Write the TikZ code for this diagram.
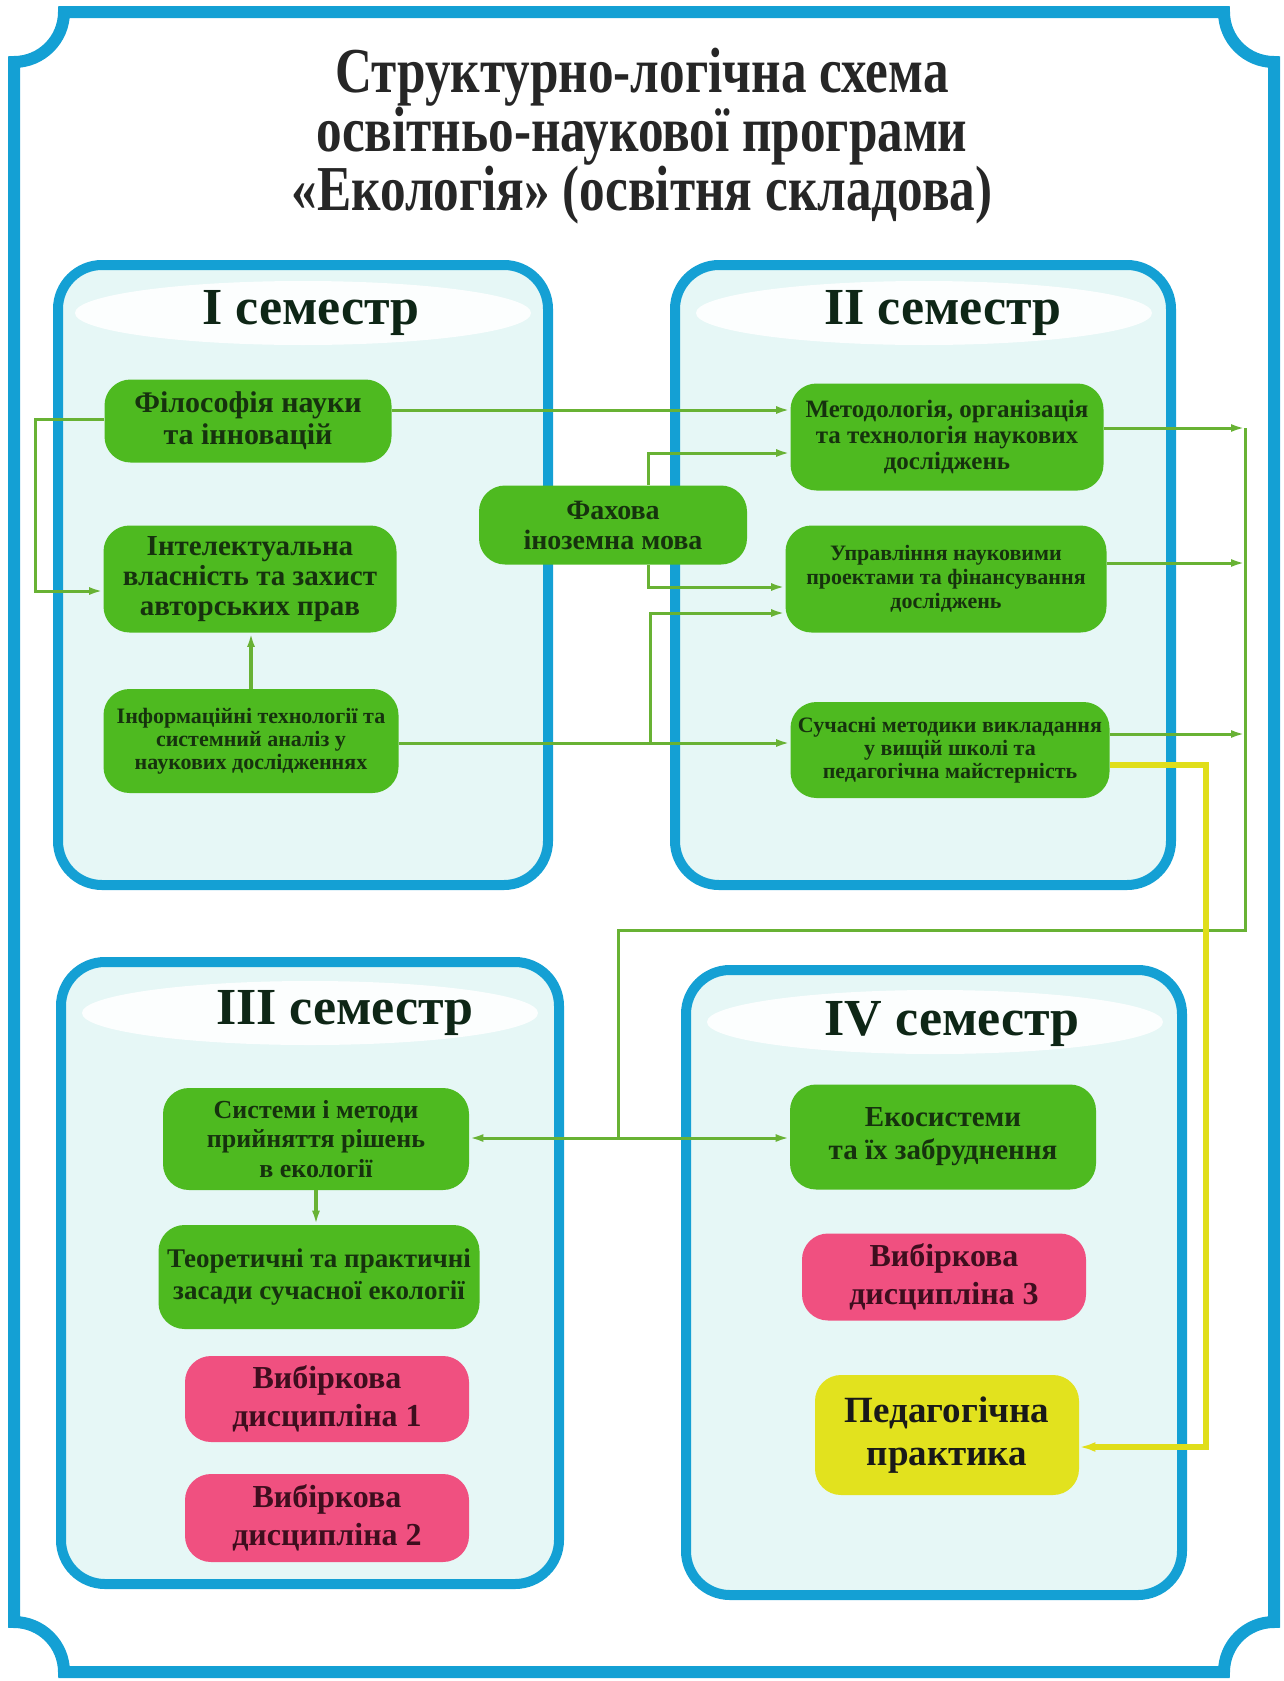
\documentclass[tikz,border=0pt]{standalone}
\usepackage{fontspec}
\setmainfont{Liberation Serif}
\newfontfamily\titlefont[FakeStretch=0.8]{Liberation Serif}
\usetikzlibrary{arrows.meta}

\definecolor{frameblue}{RGB}{20,160,212}
\definecolor{panelfill}{RGB}{230,247,246}
\definecolor{coursegreen}{RGB}{78,186,32}
\definecolor{linkgreen}{RGB}{104,178,52}
\definecolor{coursetext}{RGB}{22,50,14}
\definecolor{headtext}{RGB}{14,38,22}
\definecolor{electpink}{RGB}{240,80,128}
\definecolor{electtext}{RGB}{62,14,30}
\definecolor{practyellow}{RGB}{226,226,30}
\definecolor{practline}{RGB}{224,222,26}

\tikzstyle{outerframe}=[
	draw=frameblue,
	line width=6pt
]
\tikzstyle{panel}=[
	draw=frameblue,
	line width=5pt,
	fill=panelfill,
	rounded corners=22pt
]
\tikzstyle{glow}=[
	fill=white,
	opacity=0.9
]
\tikzstyle{semhead}=[
	text=headtext,
	font=\fontsize{26}{28}\selectfont\bfseries
]
\tikzstyle{course}=[
	rectangle,
	rounded corners=13pt,
	fill=coursegreen,
	text=coursetext,
	align=center,
	inner sep=0pt
]
\tikzstyle{elective}=[
	course,
	fill=electpink,
	text=electtext,
	minimum width=142pt,
	font=\fontsize{16}{19}\selectfont\bfseries
]
\tikzstyle{practice}=[
	course,
	fill=practyellow,
	text=black!90
]
\tikzstyle{wire}=[
	draw=linkgreen,
	line width=1.5pt
]
\tikzstyle{link}=[
	wire,
	-{Latex[length=7pt,width=4pt]}
]
\tikzstyle{thicklink}=[
	link,
	line width=2.4pt
]
\tikzstyle{praclink}=[
	draw=practline,
	line width=3pt,
	-{Latex[length=8pt,width=5pt]}
]

\begin{document}
\begin{tikzpicture}[x=0.5pt, y=-0.5pt]
\useasboundingbox (0,0) rectangle (1284,1681);

\draw[outerframe] (64,12) -- (1224,12) .. controls (1224,39.6) and (1246.4,62) .. (1274,62)
    -- (1274,1622) .. controls (1246.4,1622) and (1224,1644.4) .. (1224,1672)
    -- (64,1672) .. controls (64,1644.4) and (41.6,1622) .. (14,1622)
    -- (14,62) .. controls (41.6,62) and (64,39.6) .. (64,12) -- cycle;

\node[font=\titlefont\fontsize{32}{29.5}\selectfont\bfseries, text=black!85, align=center] at (642,136) (title)
    {Структурно-логічна схема\\освітньо-наукової програми\\«Екологія» (освітня складова)};

\foreach \xa/\ya/\xb/\yb in {58/265/548/885, 675/265/1171/885, 61/962/559/1584, 686/970/1182/1595}{
    \draw[panel] (\xa,\ya) rectangle (\xb,\yb);
}

\foreach \cx/\cy/\hx/\hy/\n/\lab in {303/313/311/313/1/I, 924/313/943/313/2/II, 310/1013/345/1013/3/III, 935/1022/952/1024/4/IV}{
    \fill[glow] (\cx,\cy) ellipse [x radius=114pt, y radius=16pt];
    \node[semhead] at (\hx,\hy) (sem\n) {\lab\ семестр};
}

\node[course, minimum width=143.5pt, minimum height=41.5pt, font=\fontsize{15}{16}\selectfont\bfseries] at (248,421) (fil) {Філософія науки\\та інновацій};
\node[course, minimum width=146.5pt, minimum height=53.5pt, font=\fontsize{14.5}{15}\selectfont\bfseries] at (250,579) (intel) {Інтелектуальна\\власність та захист\\авторських прав};
\node[course, minimum width=147.5pt, minimum height=52pt, font=\fontsize{11}{11.5}\selectfont\bfseries] at (251,741) (inform) {Інформаційні технології та\\системний аналіз у\\наукових дослідженнях};
\node[course, minimum width=134pt, minimum height=39.5pt, font=\fontsize{14}{15}\selectfont\bfseries] at (613,525) (fakh) {Фахова\\іноземна мова};
\node[course, minimum width=156.5pt, minimum height=53.5pt, font=\fontsize{12.5}{13}\selectfont\bfseries] at (947,437) (metod) {Методологія, організація\\та технологія наукових\\досліджень};
\node[course, minimum width=160.5pt, minimum height=53.5pt, font=\fontsize{11}{12}\selectfont\bfseries] at (946,579) (uprav) {Управління науковими\\проектами та фінансування\\досліджень};
\node[course, minimum width=159.5pt, minimum height=48pt, font=\fontsize{11}{11.5}\selectfont\bfseries] at (950,750) (suchas) {Сучасні методики викладання\\у вищій школі та\\педагогічна майстерність};
\node[course, minimum width=153pt, minimum height=51pt, font=\fontsize{13}{14.7}\selectfont\bfseries] at (316,1139) (system) {Системи і методи\\прийняття рішень\\в екології};
\node[course, minimum width=160.5pt, minimum height=52pt, font=\fontsize{13.5}{16}\selectfont\bfseries] at (319,1277) (teor) {Теоретичні та практичні\\засади сучасної екології};
\node[elective, minimum height=43pt] at (327,1399) (vyb1) {Вибіркова\\дисципліна 1};
\node[elective, minimum height=44pt] at (327,1518) (vyb2) {Вибіркова\\дисципліна 2};
\node[course, minimum width=153pt, minimum height=52.5pt, font=\fontsize{14.5}{16.5}\selectfont\bfseries] at (943,1137) (ekos) {Екосистеми\\та їх забруднення};
\node[elective, minimum height=43.5pt] at (944,1277) (vyb3) {Вибіркова\\дисципліна 3};
\node[practice, minimum width=132pt, minimum height=60pt, font=\fontsize{18.5}{21.5}\selectfont\bfseries] at (947,1435) (pedag) {Педагогічна\\практика};

\coordinate (rb) at (1245,428);
\coordinate (lc) at (618,930);
\coordinate (jn) at (618,1138);
\coordinate (ib) at (650,743);

\draw[link] ([yshift=5.5pt]fil.east) -- ([yshift=5.5pt]fil.east -| metod.west);
\draw[link] ([yshift=1pt]fil.west) -- ++(-69,0) |- ([yshift=-6pt]intel.west);
\draw[thicklink] (inform.north) -- (inform.north |- intel.south);
\draw[link] ([yshift=-1pt]inform.east) -- ([yshift=-1pt]inform.east -| suchas.west);
\draw[link] (ib) |- ([yshift=-17pt]uprav.west);
\draw[link] ([xshift=17.5pt]fakh.north) |- ([yshift=-8pt]metod.west);
\draw[link] ([xshift=17.5pt]fakh.south) |- ([yshift=-4pt]uprav.west);
\draw[link] ([yshift=4.5pt]metod.east) -- (rb);
\draw[link] ([yshift=8pt]uprav.east) -- ([yshift=8pt]uprav.east -| rb);
\draw[link] ([yshift=8pt]suchas.east) -- ([yshift=8pt]suchas.east -| rb);
\draw[wire] (rb) |- (lc) -- (jn);
\draw[link] (jn) -- (jn -| system.east);
\draw[link] (jn) -- (jn -| ekos.west);
\draw[thicklink] (system.south) -- (system.south |- teor.north);
\draw[praclink] ([yshift=-7.5pt]suchas.east) -- ++(96,0) |- ([yshift=-6pt]pedag.east);

\end{tikzpicture}
\end{document}
